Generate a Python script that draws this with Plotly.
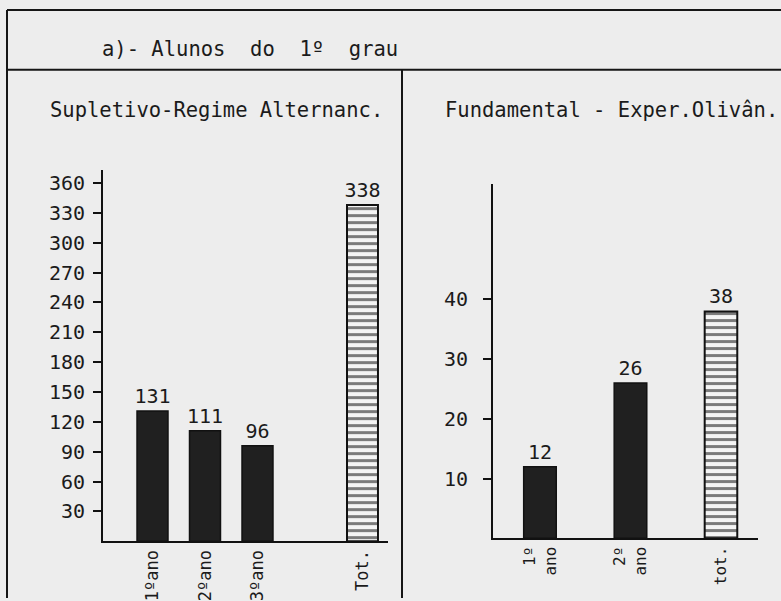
import plotly.graph_objects as go

W, H = 781, 601
FONT = "DejaVu Sans Mono"
INK = "#1b1b1b"
BG = "#ededed"

# ---- data ----
title_text = "a)-\u00a0Alunos\u00a0\u00a0do\u00a0\u00a01º\u00a0\u00a0grau"
left_title = "Supletivo-Regime Alternanc."
right_title = "Fundamental - Exper.Olivân."

left_cats = ["1ºano", "2ºano", "3ºano", "Tot."]
left_order = ["1ºano", "2ºano", "3ºano", " ", "Tot."]   # blank slot separates the total
left_vals = [131, 111, 96, 338]
left_ticks = [30, 60, 90, 120, 150, 180, 210, 240, 270, 300, 330, 360]

right_cats = ["1º<br>ano", "2º<br>ano", "tot."]
right_vals = [12, 26, 38]
right_ticks = [10, 20, 30, 40]

left_total_flags = [False, False, False, True]
right_total_flags = [False, False, True]


def px(x):
    return x / W


def py(y):
    return 1 - y / H


fig = go.Figure()


def add_bars(cats, vals, flags, xa, ya, width):
    solid_c = [c for c, f in zip(cats, flags) if not f]
    solid_v = [v for v, f in zip(vals, flags) if not f]
    tot_c = [c for c, f in zip(cats, flags) if f]
    tot_v = [v for v, f in zip(vals, flags) if f]
    fig.add_trace(go.Bar(
        x=solid_c, y=solid_v, xaxis=xa, yaxis=ya, width=width,
        marker=dict(color="#202020", line=dict(color="#111", width=1.5)),
        text=[str(v) for v in solid_v], textposition="outside",
        textfont=dict(family=FONT, size=20, color=INK), constraintext="none",
        cliponaxis=False, showlegend=False, hoverinfo="skip",
    ))
    fig.add_trace(go.Bar(
        x=tot_c, y=tot_v, xaxis=xa, yaxis=ya, width=width,
        marker=dict(color="#f2f2f2", line=dict(color="#111", width=2),
                    pattern=dict(shape="-", fgcolor="#000", bgcolor="#f4f4f4",
                                 size=7, solidity=0.42)),
        text=[str(v) for v in tot_v], textposition="outside",
        textfont=dict(family=FONT, size=20, color=INK), constraintext="none",
        cliponaxis=False, showlegend=False, hoverinfo="skip",
    ))


add_bars(left_cats, left_vals, left_total_flags, "x", "y", 0.59)
add_bars(right_cats, right_vals, right_total_flags, "x2", "y2", 0.36)

axis_common = dict(showgrid=False, zeroline=False, showline=True, linecolor="#111",
                   linewidth=2, fixedrange=True,
                   tickfont=dict(family=FONT, size=20, color=INK))
xfont = dict(family=FONT, size=17, color=INK)

# left chart: baseline y=544, top 171 (1 px per unit); x from 103 to 388
fig.update_layout(
    xaxis=dict(axis_common, domain=[px(103), px(388)], anchor="y",
               type="category", categoryorder="array", categoryarray=left_order,
               range=[-0.943, 4.486], ticks="", tickangle=-90, tickfont=xfont),
    yaxis=dict(axis_common, domain=[py(544), py(171)], anchor="x",
               range=[0, 373], tickvals=left_ticks, ticks="outside",
               ticklen=8, tickwidth=2, tickcolor="#111", ticklabelstandoff=4),
    xaxis2=dict(axis_common, domain=[px(493), px(758)], anchor="y2",
                type="category", categoryorder="array", categoryarray=right_cats,
                range=[-0.519, 2.409], ticks="", tickangle=-90,
                tickfont=dict(family=FONT, size=16, color=INK)),
    yaxis2=dict(axis_common, domain=[py(541), py(185)], anchor="x2",
                range=[0, 59.33], tickvals=right_ticks, ticks="outside",
                ticklen=8, tickwidth=2, tickcolor="#111", ticklabelstandoff=11),
)

# frame lines
line = dict(color="#161616", width=2)
shapes = [
    dict(type="line", xref="paper", yref="paper", x0=px(7), x1=1, y0=py(10), y1=py(10), line=line),
    dict(type="line", xref="paper", yref="paper", x0=px(7), x1=1, y0=py(70), y1=py(70), line=line),
    dict(type="line", xref="paper", yref="paper", x0=px(7), x1=px(7), y0=0, y1=py(10), line=line),
    dict(type="line", xref="paper", yref="paper", x0=px(402), x1=px(402), y0=0, y1=py(70), line=line),
]

annotations = [
    dict(text=title_text, xref="paper", yref="paper", x=px(100), y=py(49),
         xanchor="left", yanchor="middle", showarrow=False,
         font=dict(family=FONT, size=20.5, color=INK)),
    dict(text=left_title, xref="paper", yref="paper", x=px(48), y=py(111),
         xanchor="left", yanchor="middle", showarrow=False,
         font=dict(family=FONT, size=20.5, color=INK)),
    dict(text=right_title, xref="paper", yref="paper", x=px(443), y=py(111),
         xanchor="left", yanchor="middle", showarrow=False,
         font=dict(family=FONT, size=20.5, color=INK)),
]

fig.update_layout(
    width=W, height=H, margin=dict(l=0, r=0, t=0, b=0),
    paper_bgcolor=BG, plot_bgcolor=BG, barmode="overlay",
    shapes=shapes, annotations=annotations, showlegend=False,
)

fig.write_html(
    "out.html",
    config={"displayModeBar": False},
    post_script="document.body.style.margin='0';document.body.style.overflow='hidden';"
                "document.body.style.background='#ededed';",
)
